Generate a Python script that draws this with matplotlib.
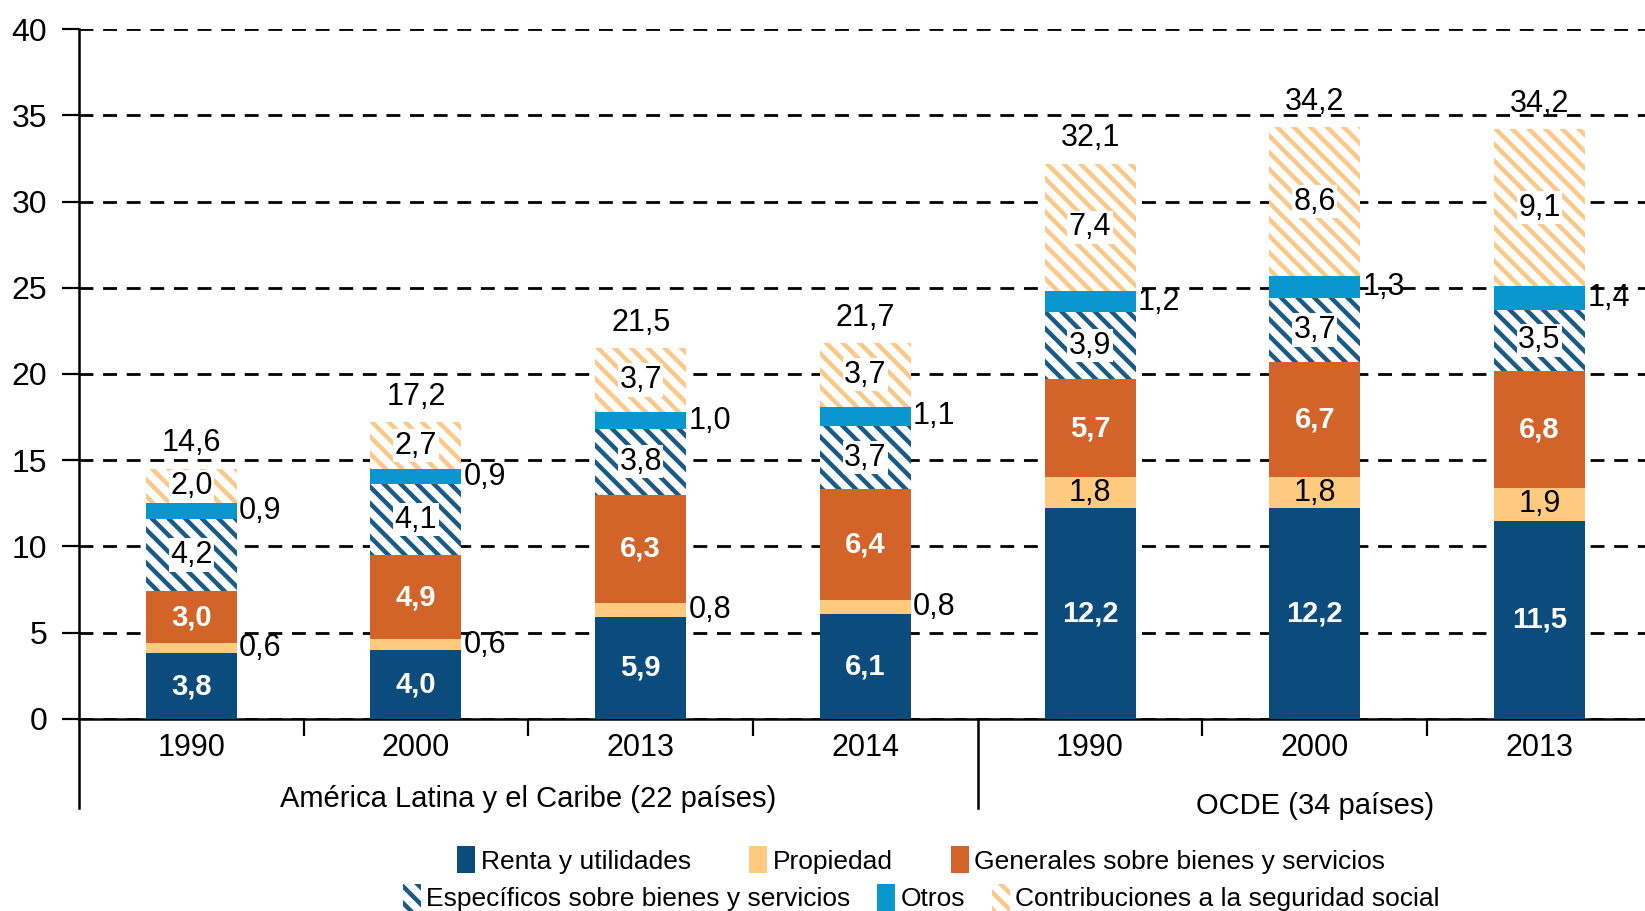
import matplotlib.pyplot as plt
from matplotlib.patches import Patch
from matplotlib import font_manager
import numpy as np

# fonts: narrow Arial-like if available
names = {f.name for f in font_manager.fontManager.ttflist}
fam = [f for f in ['Liberation Sans Narrow', 'Liberation Sans', 'DejaVu Sans'] if f in names]
plt.rcParams['font.family'] = fam
plt.rcParams['hatch.linewidth'] = 3.2

years = ['1990', '2000', '2013', '2014', '1990', '2000', '2013']
groups = ['América Latina y el Caribe (22 países)', 'OCDE (34 países)']

renta = [3.8, 4.0, 5.9, 6.1, 12.2, 12.2, 11.5]
propiedad = [0.6, 0.6, 0.8, 0.8, 1.8, 1.8, 1.9]
generales = [3.0, 4.9, 6.3, 6.4, 5.7, 6.7, 6.8]
especificos = [4.2, 4.1, 3.8, 3.7, 3.9, 3.7, 3.5]
otros = [0.9, 0.9, 1.0, 1.1, 1.2, 1.3, 1.4]
contrib = [2.0, 2.7, 3.7, 3.7, 7.4, 8.6, 9.1]
totals = [14.6, 17.2, 21.5, 21.7, 32.1, 34.2, 34.2]

c_renta = '#0b4c7d'
c_prop = '#fdca7f'
c_gen = '#d2642a'
c_esp = '#1a5a86'
c_otros = '#0a97cf'
c_contrib = '#fcc98a'

def fmt(v):
    return f'{v:.1f}'.replace('.', ',')

fig = plt.figure(figsize=(16.45, 9.11), dpi=100)
ax = fig.add_axes([0.048, 0.211, 0.952, 0.757])

x = np.arange(len(years))
w = 0.405
bottom = np.zeros(len(years))

series = [
    (renta, dict(color=c_renta), 'Renta y utilidades'),
    (propiedad, dict(color=c_prop), 'Propiedad'),
    (generales, dict(color=c_gen), 'Generales sobre bienes y servicios'),
    (especificos, dict(facecolor='white', edgecolor=c_esp, hatch='\\\\', linewidth=0), 'Específicos sobre bienes y servicios'),
    (otros, dict(color=c_otros), 'Otros'),
    (contrib, dict(facecolor='white', edgecolor=c_contrib, hatch='\\\\', linewidth=0), 'Contribuciones a la seguridad social'),
]

for k, (vals, style, name) in enumerate(series):
    vals = np.array(vals)
    ax.bar(x, vals, w, bottom=bottom, zorder=3, **style)
    for i, v in enumerate(vals):
        yc = bottom[i] + v / 2
        if k in (0, 2):
            ax.text(x[i], yc, fmt(v), ha='center', va='center', color='white',
                    fontsize=21, fontweight='bold', zorder=5)
        elif k == 1:
            if i < 4:
                ax.text(x[i] + w / 2 + 0.01, yc, fmt(v), ha='left', va='center',
                        fontsize=22, zorder=5)
            else:
                ax.text(x[i], yc, fmt(v), ha='center', va='center', fontsize=22, zorder=5)
        elif k == 4:
            ax.text(x[i] + w / 2 + 0.01, yc, fmt(v), ha='left', va='center',
                    fontsize=22, zorder=5)
        else:
            ax.text(x[i], yc, fmt(v), ha='center', va='center', fontsize=22, zorder=5,
                    bbox=dict(facecolor='white', edgecolor='none', pad=1))
    bottom = bottom + vals

for i, t in enumerate(totals):
    ax.text(x[i], bottom[i] + 0.6, fmt(t), ha='center', va='bottom', fontsize=22, zorder=5)

ax.set_ylim(0, 40)
ax.set_xlim(-0.5, 6.47)
ax.set_yticks(range(0, 41, 5))
ax.yaxis.grid(True, linestyle=(0, (5, 3.5)), color='black', linewidth=2.0, zorder=0)
ax.set_axisbelow(True)
ax.tick_params(axis='y', labelsize=23, length=12, width=1.6, pad=11, direction='out')

ax.set_xticks(x)
ax.set_xticklabels(years)
ax.set_xticks([0.5, 1.5, 2.5, 4.5, 5.5], minor=True)
ax.tick_params(axis='x', which='major', length=0, labelsize=22, pad=10)
ax.tick_params(axis='x', which='minor', length=12, width=1.6)

for s in ['top', 'right']:
    ax.spines[s].set_visible(False)
ax.spines['left'].set_linewidth(1.8)
ax.spines['bottom'].set_linewidth(1.8)

# group separators extending below the axis
trans = ax.get_xaxis_transform()
ax.plot([-0.5, -0.5], [0, -0.13], transform=trans, color='black', lw=1.8, clip_on=False)
ax.plot([3.5, 3.5], [0, -0.13], transform=trans, color='black', lw=1.8, clip_on=False)
ax.text(1.5, -0.117, groups[0], transform=trans, ha='center', va='center', fontsize=21)
ax.text(5.0, -0.127, groups[1], transform=trans, ha='center', va='center', fontsize=21)

handles = []
for vals, style, name in series:
    if 'hatch' in style:
        handles.append(Patch(facecolor='white', edgecolor=style['edgecolor'],
                             hatch=style['hatch'], linewidth=0, label=name))
    else:
        handles.append(Patch(facecolor=style['color'], label=name))

leg1 = fig.legend(handles=handles[:3], loc='center', bbox_to_anchor=(0.56, 0.056), ncol=3,
                  frameon=False, fontsize=19, handlelength=0.7, handleheight=1.2,
                  handletextpad=0.2, columnspacing=2.2, borderpad=0)
leg2 = fig.legend(handles=handles[3:], loc='center', bbox_to_anchor=(0.56, 0.015), ncol=3,
                  frameon=False, fontsize=19, handlelength=0.7, handleheight=1.2,
                  handletextpad=0.2, columnspacing=1.0, borderpad=0)

fig.savefig('out.png', dpi=100)
